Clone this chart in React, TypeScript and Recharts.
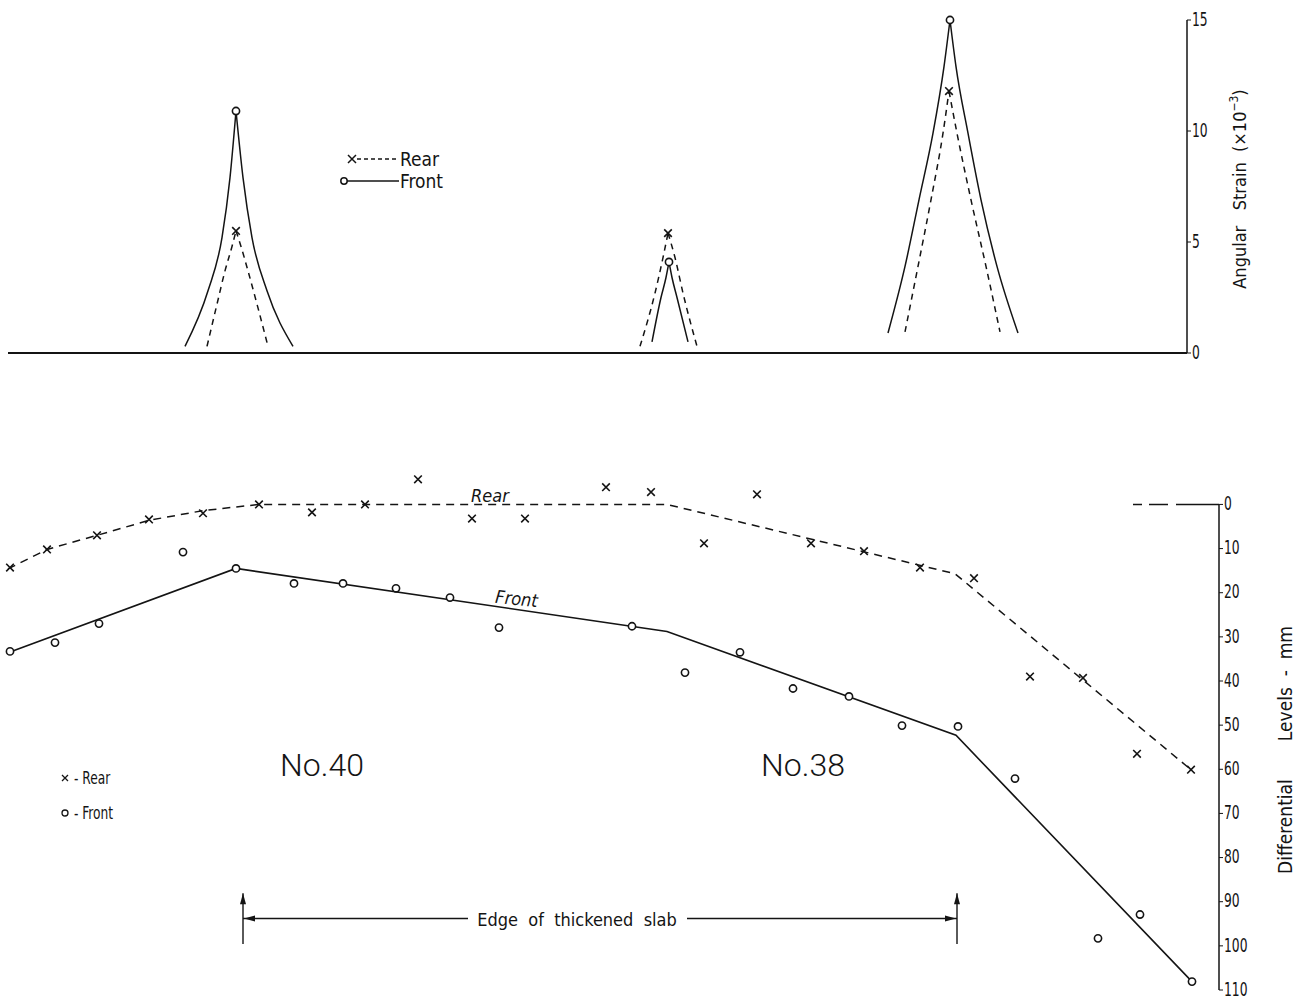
import {
  ComposedChart,
  Legend,
  Line,
  ReferenceDot,
  ReferenceLine,
  Scatter,
  XAxis,
  YAxis,
} from "recharts";

const INK = "#141414";
const FONT =
  "'DejaVu Sans Condensed', 'Liberation Sans Narrow', 'Roboto Condensed', 'DejaVu Sans', sans-serif";
const THIN = "Roboto, 'Open Sans', 'DejaVu Sans', sans-serif";

// ---------- upper panel: angular strain (x10^-3) ----------
const strainTicks = [0, 5, 10, 15];

const frontPeaks = [
  { x: 236, y: 10.9 },
  { x: 669, y: 4.1 },
  { x: 950, y: 15.0 },
];
const rearPeaks = [
  { x: 236, y: 5.5 },
  { x: 668, y: 5.4 },
  { x: 949, y: 11.8 },
];

// flanks of each peak (peak itself added below)
const frontLeftFlanks = [
  [{ x: 185, y: 0.3 }, { x: 208, y: 2.8 }, { x: 222, y: 5.2 }, { x: 230, y: 7.9 }],
  [{ x: 652, y: 0.5 }, { x: 661, y: 2.5 }, { x: 666, y: 3.4 }],
  [{ x: 888, y: 0.9 }, { x: 905, y: 3.9 }, { x: 919, y: 6.9 }, { x: 933, y: 9.9 }, { x: 944, y: 12.9 }],
];
const frontRightFlanks = [
  [{ x: 243, y: 7.9 }, { x: 252, y: 5.2 }, { x: 267, y: 2.8 }, { x: 293, y: 0.3 }],
  [{ x: 672, y: 3.4 }, { x: 677, y: 2.5 }, { x: 688, y: 0.5 }],
  [{ x: 956, y: 12.9 }, { x: 968, y: 9.9 }, { x: 981, y: 6.9 }, { x: 997, y: 3.9 }, { x: 1018, y: 0.9 }],
];
const rearLeftFlanks = [
  [{ x: 207, y: 0.3 }, { x: 217, y: 2.2 }, { x: 225, y: 3.7 }, { x: 232, y: 4.8 }],
  [{ x: 640, y: 0.3 }, { x: 655, y: 2.7 }, { x: 663, y: 4.3 }],
  [{ x: 905, y: 0.95 }, { x: 918, y: 3.9 }, { x: 931, y: 6.9 }, { x: 943, y: 9.9 }],
];
const rearRightFlanks = [
  [{ x: 241, y: 4.8 }, { x: 248, y: 3.7 }, { x: 257, y: 2.2 }, { x: 268, y: 0.3 }],
  [{ x: 675, y: 4.3 }, { x: 683, y: 2.7 }, { x: 697, y: 0.3 }],
  [{ x: 957, y: 9.9 }, { x: 971, y: 6.9 }, { x: 986, y: 3.9 }, { x: 1000, y: 0.95 }],
];

// ---------- lower panel: differential levels (mm) ----------
const levelTicks = [0, 10, 20, 30, 40, 50, 60, 70, 80, 90, 100, 110];

const rearX = [10, 47, 97, 149, 203, 259, 312, 365, 418, 472, 525, 606, 651, 704, 757, 811, 864, 920, 974, 1030, 1083, 1137, 1191];
const rearLevel = [14.3, 10.2, 7.0, 3.4, 2.0, 0, 1.8, 0, -5.7, 3.2, 3.2, -3.9, -2.8, 8.8, -2.3, 8.8, 10.6, 14.3, 16.7, 39.0, 39.3, 56.5, 60.1];

const frontX = [10, 55, 99, 183, 236, 294, 343, 396, 450, 499, 632, 685, 740, 793, 849, 902, 958, 1015, 1098, 1140, 1192];
const frontLevel = [33.3, 31.3, 27.0, 10.8, 14.5, 17.9, 17.9, 19.0, 21.1, 27.9, 27.6, 38.1, 33.5, 41.7, 43.5, 50.1, 50.3, 62.1, 98.3, 92.9, 108.1];

// hand-drawn trend lines
const rearFitX = [8, 47, 97, 149, 203, 259, 667, 955, 1191];
const rearFit = [14.6, 10.2, 7.0, 3.6, 1.4, 0, 0, 15.7, 60.1];
const frontFitX = [8, 236, 667, 956, 1192];
const frontFit = [33.6, 14.5, 28.8, 52.3, 108.1];

// edge of thickened slab marker
const edgeX = [243, 957];
const edgeLineY = 93.8;
const edgeTop = 88.1;
const edgeBottom = 99.6;
const edgeGap = [468, 687];

const pts = (xs: number[], ys: number[]) => xs.map((x, i) => ({ x, y: ys[i] }));

const strainCurves = [0, 1, 2].flatMap((i) => [
  { key: `fl${i}`, dashed: false, data: [...frontLeftFlanks[i], frontPeaks[i]] },
  { key: `fr${i}`, dashed: false, data: [frontPeaks[i], ...frontRightFlanks[i]] },
  { key: `rl${i}`, dashed: true, data: [...rearLeftFlanks[i], rearPeaks[i]] },
  { key: `rr${i}`, dashed: true, data: [rearPeaks[i], ...rearRightFlanks[i]] },
]);

const Cross = (p: any) => {
  const { cx, cy } = p;
  const s = 3.8;
  return (
    <path
      d={`M${cx - s},${cy - s}L${cx + s},${cy + s}M${cx - s},${cy + s}L${cx + s},${cy - s}`}
      stroke={INK}
      strokeWidth={1.6}
    />
  );
};

const Ring = (p: any) => (
  <circle cx={p.cx} cy={p.cy} r={3.6} fill="#fff" stroke={INK} strokeWidth={1.6} />
);

// narrow tick labels like the stencil lettering of the drawing
const NarrowTick = (p: any) => {
  const { x, y, payload } = p;
  return (
    <text
      x={0}
      y={0}
      transform={`translate(${x},${y}) scale(0.72,1)`}
      dy="0.3em"
      textAnchor="start"
      fontSize={19}
      fontFamily={FONT}
      fill={INK}
    >
      {payload.value}
    </text>
  );
};

const textMark =
  (label: string, size: number, extra: Record<string, any> = {}) =>
  (p: any) => (
    <text
      x={p.cx}
      y={p.cy}
      textAnchor="middle"
      fontSize={size}
      fontFamily={FONT}
      fill={INK}
      {...extra}
    >
      {label}
    </text>
  );

const arrowHead = (dir: "up" | "left" | "right") => (p: any) => {
  const { cx, cy } = p;
  const d =
    dir === "up"
      ? `M${cx},${cy}L${cx - 3},${cy + 11}L${cx + 3},${cy + 11}Z`
      : dir === "left"
        ? `M${cx},${cy}L${cx + 11},${cy - 3}L${cx + 11},${cy + 3}Z`
        : `M${cx},${cy}L${cx - 11},${cy - 3}L${cx - 11},${cy + 3}Z`;
  return <path d={d} fill={INK} />;
};

function StrainKey() {
  return (
    <svg width={130} height={50} style={{ overflow: "visible" }}>
      <path d="M10,10L18,18M10,18L18,10" stroke={INK} strokeWidth={1.5} />
      <line x1={19} y1={14} x2={61} y2={14} stroke={INK} strokeWidth={1.4} strokeDasharray="4 3" />
      <text x={62} y={21} fontSize={19} fontFamily={FONT} fill={INK}>
        Rear
      </text>
      <circle cx={6} cy={36} r={3.2} fill="#fff" stroke={INK} strokeWidth={1.5} />
      <line x1={9} y1={36} x2={61} y2={36} stroke={INK} strokeWidth={1.4} />
      <text x={62} y={43} fontSize={19} fontFamily={FONT} fill={INK}>
        Front
      </text>
    </svg>
  );
}

function LevelKey() {
  return (
    <svg width={90} height={60} style={{ overflow: "visible" }}>
      <path d="M7,9L13,15M7,15L13,9" stroke={INK} strokeWidth={1.3} />
      <text x={0} y={0} transform="translate(19,18) scale(0.8,1)" fontSize={17} fontFamily={FONT} fill={INK}>
        - Rear
      </text>
      <circle cx={10} cy={47} r={3} fill="#fff" stroke={INK} strokeWidth={1.3} />
      <text x={0} y={0} transform="translate(19,53) scale(0.8,1)" fontSize={17} fontFamily={FONT} fill={INK}>
        - Front
      </text>
    </svg>
  );
}

export default function App() {
  return (
    <div
      style={{
        position: "absolute",
        left: 0,
        top: 0,
        width: 1299,
        height: 999,
        background: "#fff",
      }}
    >
      <div style={{ position: "absolute", left: 0, top: 0 }}>
        <ComposedChart width={1299} height={372} margin={{ top: 20, right: 0, bottom: 19, left: 8 }}>
          <XAxis type="number" dataKey="x" domain={[8, 1187]} hide />
          <YAxis
            type="number"
            dataKey="y"
            orientation="right"
            width={112}
            domain={[0, 15]}
            ticks={strainTicks}
            interval={0}
            tick={NarrowTick}
            tickSize={4}
            tickMargin={1}
            axisLine={{ stroke: INK, strokeWidth: 1.5 }}
            tickLine={{ stroke: INK }}
            label={{
              content: () => (
                <text
                  x={1246}
                  y={189}
                  transform="rotate(-90, 1246, 189)"
                  textAnchor="middle"
                  fontSize={18}
                  fontFamily={FONT}
                  fill={INK}
                  style={{ whiteSpace: "pre" }}
                >
                  {"Angular   Strain  (×10"}
                  <tspan dy={-8} fontSize={12}>
                    −3
                  </tspan>
                  <tspan dy={8}>)</tspan>
                </text>
              ),
            }}
          />
          <ReferenceLine y={0} stroke={INK} strokeWidth={2} />
          {strainCurves.map((c) => (
            <Line
              key={c.key}
              data={c.data}
              dataKey="y"
              type="monotone"
              stroke={INK}
              strokeWidth={1.5}
              strokeDasharray={c.dashed ? "6 5" : undefined}
              dot={false}
              activeDot={false}
              isAnimationActive={false}
            />
          ))}
          <Scatter data={rearPeaks} dataKey="y" shape={Cross} isAnimationActive={false} />
          <Scatter data={frontPeaks} dataKey="y" shape={Ring} isAnimationActive={false} />
          <Legend
            layout="horizontal"
            verticalAlign="middle"
            align="center"
            wrapperStyle={{ left: 338, top: 145, width: 130, height: 50 }}
            content={() => <StrainKey />}
          />
        </ComposedChart>
      </div>

      <div style={{ position: "absolute", left: 0, top: 362 }}>
        <ComposedChart width={1299} height={637} margin={{ top: 10, right: 0, bottom: 9, left: 8 }}>
          <XAxis type="number" dataKey="x" domain={[8, 1219]} hide />
          <YAxis
            type="number"
            dataKey="y"
            orientation="right"
            width={80}
            reversed
            domain={[-30, 110]}
            ticks={levelTicks}
            interval={0}
            tick={NarrowTick}
            tickSize={4}
            tickMargin={1}
            axisLine={false}
            tickLine={{ stroke: INK }}
            label={{
              content: () => (
                <text
                  x={1292}
                  y={388}
                  transform="rotate(-90, 1292, 388)"
                  textAnchor="middle"
                  fontSize={19}
                  fontFamily={FONT}
                  fill={INK}
                  style={{ whiteSpace: "pre" }}
                >
                  {"Differential       Levels  -  mm"}
                </text>
              ),
            }}
          />
          <ReferenceLine
            segment={[
              { x: 1219, y: 0 },
              { x: 1219, y: 110 },
            ]}
            stroke={INK}
            strokeWidth={1.5}
            ifOverflow="visible"
          />
          <ReferenceLine
            segment={[
              { x: 1133, y: 0 },
              { x: 1219, y: 0 },
            ]}
            stroke={INK}
            strokeWidth={1.5}
            strokeDasharray="9 7 19 8 44"
            ifOverflow="visible"
          />

          <Line
            data={pts(rearFitX, rearFit)}
            dataKey="y"
            type="linear"
            stroke={INK}
            strokeWidth={1.5}
            strokeDasharray="8 6"
            dot={false}
            activeDot={false}
            isAnimationActive={false}
          />
          <Line
            data={pts(frontFitX, frontFit)}
            dataKey="y"
            type="linear"
            stroke={INK}
            strokeWidth={1.6}
            dot={false}
            activeDot={false}
            isAnimationActive={false}
          />
          <Scatter data={pts(rearX, rearLevel)} dataKey="y" shape={Cross} isAnimationActive={false} />
          <Scatter data={pts(frontX, frontLevel)} dataKey="y" shape={Ring} isAnimationActive={false} />

          {/* edge of thickened slab */}
          {edgeX.map((x) => (
            <ReferenceLine
              key={`edge-${x}`}
              segment={[
                { x, y: edgeTop },
                { x, y: edgeBottom },
              ]}
              stroke={INK}
              strokeWidth={1.4}
              ifOverflow="visible"
            />
          ))}
          <ReferenceLine
            segment={[
              { x: edgeX[0], y: edgeLineY },
              { x: edgeGap[0], y: edgeLineY },
            ]}
            stroke={INK}
            strokeWidth={1.5}
            ifOverflow="visible"
          />
          <ReferenceLine
            segment={[
              { x: edgeGap[1], y: edgeLineY },
              { x: edgeX[1], y: edgeLineY },
            ]}
            stroke={INK}
            strokeWidth={1.5}
            ifOverflow="visible"
          />
          <ReferenceDot x={edgeX[0]} y={edgeTop} ifOverflow="visible" shape={arrowHead("up")} />
          <ReferenceDot x={edgeX[1]} y={edgeTop} ifOverflow="visible" shape={arrowHead("up")} />
          <ReferenceDot x={edgeX[0] + 1} y={edgeLineY} ifOverflow="visible" shape={arrowHead("left")} />
          <ReferenceDot x={edgeX[1] - 1} y={edgeLineY} ifOverflow="visible" shape={arrowHead("right")} />
          <ReferenceDot
            x={577}
            y={95.4}
            ifOverflow="visible"
            shape={textMark("Edge  of  thickened  slab", 18, { style: { whiteSpace: "pre" } })}
          />

          <ReferenceDot
            x={322}
            y={61.6}
            ifOverflow="visible"
            shape={textMark("No.40", 32, { fontWeight: 300, fontFamily: THIN })}
          />
          <ReferenceDot
            x={803}
            y={61.6}
            ifOverflow="visible"
            shape={textMark("No.38", 32, { fontWeight: 300, fontFamily: THIN })}
          />
          <ReferenceDot x={490} y={-0.6} ifOverflow="visible" shape={textMark("Rear", 18, { fontStyle: "italic" })} />
          <ReferenceDot
            x={516}
            y={22.8}
            ifOverflow="visible"
            shape={(p: any) =>
              textMark("Front", 18, {
                fontStyle: "italic",
                transform: `rotate(6, ${p.cx}, ${p.cy})`,
              })(p)
            }
          />

          <Legend
            layout="horizontal"
            verticalAlign="middle"
            align="center"
            wrapperStyle={{ left: 55, top: 404, width: 90, height: 60 }}
            content={() => <LevelKey />}
          />
        </ComposedChart>
      </div>
    </div>
  );
}
